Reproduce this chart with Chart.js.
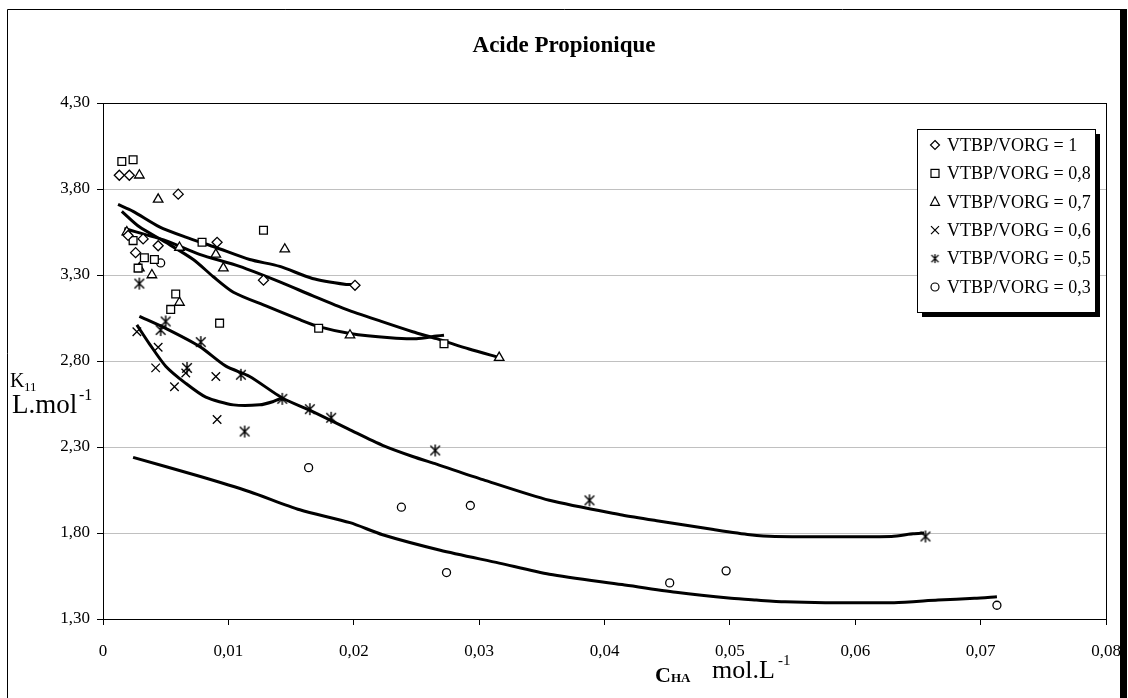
<!DOCTYPE html>
<html>
<head>
<meta charset="utf-8">
<script src="https://cdn.jsdelivr.net/npm/chart.js@4.4.0/dist/chart.umd.min.js"></script>
<style>
  body { margin: 0; background: #fff; }
  #chart { display: block; }
</style>
</head>
<body>
<canvas id="chart" width="1128" height="698"></canvas>
<script>
// axes
const xTicks = [0, 0.01, 0.02, 0.03, 0.04, 0.05, 0.06, 0.07, 0.08];
const yTicks = [1.3, 1.8, 2.3, 2.8, 3.3, 3.8, 4.3];

const seriesLabels = [
  "VTBP/VORG = 1",
  "VTBP/VORG = 0,8",
  "VTBP/VORG = 0,7",
  "VTBP/VORG = 0,6",
  "VTBP/VORG = 0,5",
  "VTBP/VORG = 0,3",
];

// mesures (C_HA, K11)
const cx1 = [0.0013, 0.0021, 0.006, 0.0091, 0.0032, 0.002, 0.0026, 0.0044, 0.0128, 0.0201];
const k1 = [3.88, 3.88, 3.77, 3.49, 3.51, 3.53, 3.43, 3.47, 3.27, 3.24];

const cx08 = [0.0015, 0.0024, 0.0128, 0.0079, 0.0024, 0.0033, 0.0041, 0.0028, 0.0058, 0.0054, 0.0093, 0.0172, 0.0272];
const k08 = [3.96, 3.97, 3.56, 3.49, 3.5, 3.4, 3.39, 3.34, 3.19, 3.1, 3.02, 2.99, 2.9];

const cx07 = [0.0029, 0.0044, 0.0019, 0.0061, 0.009, 0.0096, 0.0029, 0.0039, 0.0061, 0.0145, 0.0197, 0.0316];
const k07 = [3.88, 3.74, 3.55, 3.46, 3.42, 3.34, 3.34, 3.3, 3.14, 3.45, 2.95, 2.82];

const cx06 = [0.0027, 0.0044, 0.0042, 0.0066, 0.009, 0.0057, 0.0091];
const k06 = [2.97, 2.88, 2.76, 2.73, 2.71, 2.65, 2.46];

const cx05 = [0.0029, 0.005, 0.0046, 0.0078, 0.0067, 0.011, 0.0143, 0.0113, 0.0165, 0.0182, 0.0265, 0.0388, 0.0656];
const k05 = [3.25, 3.03, 2.98, 2.91, 2.76, 2.72, 2.58, 2.39, 2.52, 2.47, 2.28, 1.99, 1.78];

const cx03 = [0.0046, 0.0164, 0.0238, 0.0293, 0.0274, 0.0452, 0.0497, 0.0713];
const k03 = [3.37, 2.18, 1.95, 1.96, 1.57, 1.51, 1.58, 1.38];

// courbes calculées
const fit1X = [0.0012, 0.0024, 0.0045, 0.0066, 0.009, 0.0117, 0.0141, 0.0167, 0.0194, 0.02];
const fit1Y = [3.71, 3.67, 3.58, 3.52, 3.46, 3.39, 3.35, 3.28, 3.245, 3.245];

const fit08X = [0.0015, 0.0029, 0.005, 0.0072, 0.0088, 0.0104, 0.013, 0.0157, 0.0172, 0.0197, 0.0229, 0.025, 0.0266, 0.0272];
const fit08Y = [3.67, 3.58, 3.49, 3.39, 3.29, 3.2, 3.12, 3.04, 3.0, 2.96, 2.935, 2.93, 2.945, 2.95];

const fit07X = [0.0017, 0.005, 0.0077, 0.0109, 0.0141, 0.0167, 0.0194, 0.0222, 0.0247, 0.0266, 0.0292, 0.0316];
const fit07Y = [3.57, 3.5, 3.42, 3.35, 3.26, 3.18, 3.1, 3.03, 2.97, 2.93, 2.87, 2.82];

const fit06X = [0.0027, 0.0037, 0.005, 0.0066, 0.0082, 0.0104, 0.0125, 0.0136, 0.0143];
const fit06Y = [3.01, 2.9, 2.77, 2.67, 2.59, 2.545, 2.545, 2.565, 2.585];

const fit05X = [0.0029, 0.005, 0.0077, 0.0098, 0.0117, 0.0143, 0.0166, 0.0197, 0.0223, 0.0247, 0.0266, 0.0303, 0.0356, 0.0414, 0.0443, 0.0487, 0.0516, 0.0536, 0.0629, 0.0646, 0.0655];
const fit05Y = [3.06, 2.99, 2.885, 2.77, 2.71, 2.585, 2.51, 2.4, 2.31, 2.245, 2.2, 2.11, 1.99, 1.905, 1.87, 1.82, 1.79, 1.78, 1.78, 1.795, 1.8];

const fit03X = [0.0024, 0.0077, 0.0117, 0.0157, 0.0197, 0.0223, 0.0269, 0.0316, 0.0356, 0.0414, 0.0457, 0.0501, 0.0521, 0.0544, 0.0576, 0.0631, 0.0666, 0.0695, 0.0713];
const fit03Y = [2.24, 2.13, 2.04, 1.935, 1.86, 1.79, 1.7, 1.625, 1.56, 1.5, 1.455, 1.42, 1.41, 1.4, 1.395, 1.395, 1.41, 1.42, 1.43];

const serif = '"Liberation Serif", "Times New Roman", serif';

function pairs(xs, ys) {
  return xs.map((x, i) => ({ x: x, y: ys[i] }));
}

// astérisque façon Excel : un X plus une barre verticale
function makeAsterisk(size, lw) {
  const c = document.createElement("canvas");
  c.width = size;
  c.height = size;
  const g = c.getContext("2d");
  const m = size / 2;
  const r = size / 2 - 1;
  g.strokeStyle = "#000";
  g.lineWidth = lw;
  g.beginPath();
  g.moveTo(m - r * 0.8, m - r * 0.8);
  g.lineTo(m + r * 0.8, m + r * 0.8);
  g.moveTo(m + r * 0.8, m - r * 0.8);
  g.lineTo(m - r * 0.8, m + r * 0.8);
  g.moveTo(m, m - r);
  g.lineTo(m, m + r);
  g.stroke();
  return c;
}
const asterisk = makeAsterisk(14, 1.4);
const asteriskSmall = makeAsterisk(11, 1.3);

function markerSet(label, xs, ys, style, radius) {
  return {
    label: label,
    data: pairs(xs, ys),
    showLine: false,
    pointStyle: style,
    pointRadius: radius,
    pointBorderColor: "#000",
    pointBackgroundColor: "#fff",
    pointBorderWidth: 1.3,
    inLegend: true,
  };
}

function fitSet(xs, ys) {
  return {
    data: pairs(xs, ys),
    showLine: true,
    borderColor: "#000",
    borderWidth: 3,
    pointRadius: 0,
    tension: 0.25,
    fill: false,
  };
}

const datasets = [
  markerSet(seriesLabels[0], cx1, k1, "rectRot", 5),
  markerSet(seriesLabels[1], cx08, k08, "rect", 5.5),
  markerSet(seriesLabels[2], cx07, k07, "triangle", 5.5),
  markerSet(seriesLabels[3], cx06, k06, "crossRot", 6),
  markerSet(seriesLabels[4], cx05, k05, asterisk, 6),
  markerSet(seriesLabels[5], cx03, k03, "circle", 4),
  fitSet(fit1X, fit1Y),
  fitSet(fit08X, fit08Y),
  fitSet(fit07X, fit07Y),
  fitSet(fit06X, fit06Y),
  fitSet(fit05X, fit05Y),
  fitSet(fit03X, fit03Y),
];

function fmtComma(v) {
  if (Math.abs(v) < 1e-9) return "0";
  return v.toFixed(2).replace(".", ",");
}

// cadre de la zone de tracé + cadre extérieur
const framePlugin = {
  id: "frame",
  beforeDatasetsDraw(chart) {
    const ctx = chart.ctx;
    const a = chart.chartArea;
    ctx.save();
    ctx.strokeStyle = "#000";
    ctx.lineWidth = 1;
    ctx.strokeRect(Math.round(a.left) + 0.5, Math.round(a.top) + 0.5,
      Math.round(a.right - a.left), Math.round(a.bottom - a.top));
    ctx.restore();
  },
  afterDraw(chart) {
    const ctx = chart.ctx;
    ctx.save();
    ctx.strokeStyle = "#000";
    ctx.lineWidth = 1;
    ctx.beginPath();
    ctx.moveTo(7.5, 698);
    ctx.lineTo(7.5, 9.5);
    ctx.lineTo(1121, 9.5);
    ctx.stroke();
    ctx.fillStyle = "#000";
    ctx.fillRect(1120, 9, 7, 689);
    ctx.restore();
  },
};

// titre et titres d'axes (indices / exposants)
const textPlugin = {
  id: "texts",
  afterDraw(chart) {
    const ctx = chart.ctx;
    ctx.save();
    ctx.fillStyle = "#000";
    ctx.textBaseline = "alphabetic";

    ctx.textAlign = "center";
    ctx.font = "bold 23px " + serif;
    ctx.fillText("Acide Propionique", 564, 52);

    ctx.textAlign = "left";
    // K11
    ctx.font = "20px " + serif;
    ctx.fillText("K", 10, 387);
    ctx.font = "13px " + serif;
    ctx.fillText("11", 24, 391);
    // L.mol-1
    ctx.font = "27px " + serif;
    ctx.fillText("L.mol", 12, 413);
    ctx.font = "16px " + serif;
    ctx.fillText("-1", 79, 400);
    // C_HA
    ctx.font = "bold 22px " + serif;
    ctx.fillText("C", 655, 682);
    ctx.font = "bold 13px " + serif;
    ctx.fillText("HA", 671, 682);
    // mol.L-1
    ctx.font = "26px " + serif;
    ctx.fillText("mol.L", 712, 678);
    ctx.font = "15px " + serif;
    ctx.fillText("-1", 778, 665);
    ctx.restore();
  },
};

function drawLegendMarker(ctx, style, x, y) {
  ctx.beginPath();
  if (style === "rectRot") {
    ctx.moveTo(x, y - 4.5);
    ctx.lineTo(x + 4.5, y);
    ctx.lineTo(x, y + 4.5);
    ctx.lineTo(x - 4.5, y);
    ctx.closePath();
    ctx.stroke();
  } else if (style === "rect") {
    ctx.strokeRect(x - 4, y - 4, 8, 8);
  } else if (style === "triangle") {
    ctx.moveTo(x, y - 5);
    ctx.lineTo(x + 4.5, y + 3.5);
    ctx.lineTo(x - 4.5, y + 3.5);
    ctx.closePath();
    ctx.stroke();
  } else if (style === "crossRot") {
    ctx.moveTo(x - 4, y - 4);
    ctx.lineTo(x + 4, y + 4);
    ctx.moveTo(x + 4, y - 4);
    ctx.lineTo(x - 4, y + 4);
    ctx.stroke();
  } else if (style === "circle") {
    ctx.arc(x, y, 4, 0, Math.PI * 2);
    ctx.stroke();
  } else {
    ctx.drawImage(asteriskSmall, x - 5.5, y - 5.5);
  }
}

// légende encadrée avec ombre, dans la zone de tracé
const legendPlugin = {
  id: "boxLegend",
  afterDraw(chart) {
    const ctx = chart.ctx;
    const bx = 917, by = 129, bw = 178, bh = 183;
    ctx.save();
    ctx.fillStyle = "#000";
    ctx.fillRect(bx + 5, by + 5, bw, bh);
    ctx.fillStyle = "#fff";
    ctx.fillRect(bx, by, bw, bh);
    ctx.strokeStyle = "#000";
    ctx.lineWidth = 1;
    ctx.strokeRect(bx + 0.5, by + 0.5, bw, bh);

    const items = chart.data.datasets.filter((d) => d.inLegend);
    ctx.font = "18px " + serif;
    ctx.textBaseline = "middle";
    ctx.textAlign = "left";
    items.forEach((d, i) => {
      const y = 145 + i * 28.4;
      ctx.strokeStyle = "#000";
      ctx.lineWidth = 1.2;
      drawLegendMarker(ctx, d.pointStyle, 935, y);
      ctx.fillStyle = "#000";
      ctx.fillText(d.label, 947, y + 1);
    });
    ctx.restore();
  },
};

Chart.defaults.font.family = serif;
Chart.defaults.color = "#000";

new Chart(document.getElementById("chart"), {
  type: "scatter",
  data: { datasets: datasets },
  options: {
    responsive: false,
    animation: false,
    layout: { padding: { left: 0, right: 22, top: 103, bottom: 0 } },
    plugins: {
      legend: { display: false },
      tooltip: { enabled: false },
    },
    scales: {
      x: {
        type: "linear",
        min: 0,
        max: 0.08,
        afterBuildTicks: (s) => {
          s.ticks = xTicks.map((v) => ({ value: v }));
        },
        afterFit: (s) => {
          s.height = 79;
          s.paddingLeft = 0;
          s.paddingRight = 0;
        },
        ticks: {
          font: { size: 17 },
          padding: 16,
          autoSkip: false,
          maxRotation: 0,
          callback: (v) => fmtComma(v),
        },
        grid: { drawOnChartArea: false, tickColor: "#000", tickLength: 6 },
        border: { color: "#000", width: 1 },
      },
      y: {
        type: "linear",
        min: 1.3,
        max: 4.3,
        afterBuildTicks: (s) => {
          s.ticks = yTicks.map((v) => ({ value: v }));
        },
        afterFit: (s) => {
          s.width = 103;
          s.paddingTop = 0;
          s.paddingBottom = 0;
        },
        ticks: {
          font: { size: 17 },
          padding: 7,
          autoSkip: false,
          callback: (v) => fmtComma(v),
        },
        grid: { color: "#c0c0c0", tickColor: "#000", tickLength: 6 },
        border: { color: "#000", width: 1 },
      },
    },
  },
  plugins: [framePlugin, textPlugin, legendPlugin],
});
</script>
</body>
</html>
